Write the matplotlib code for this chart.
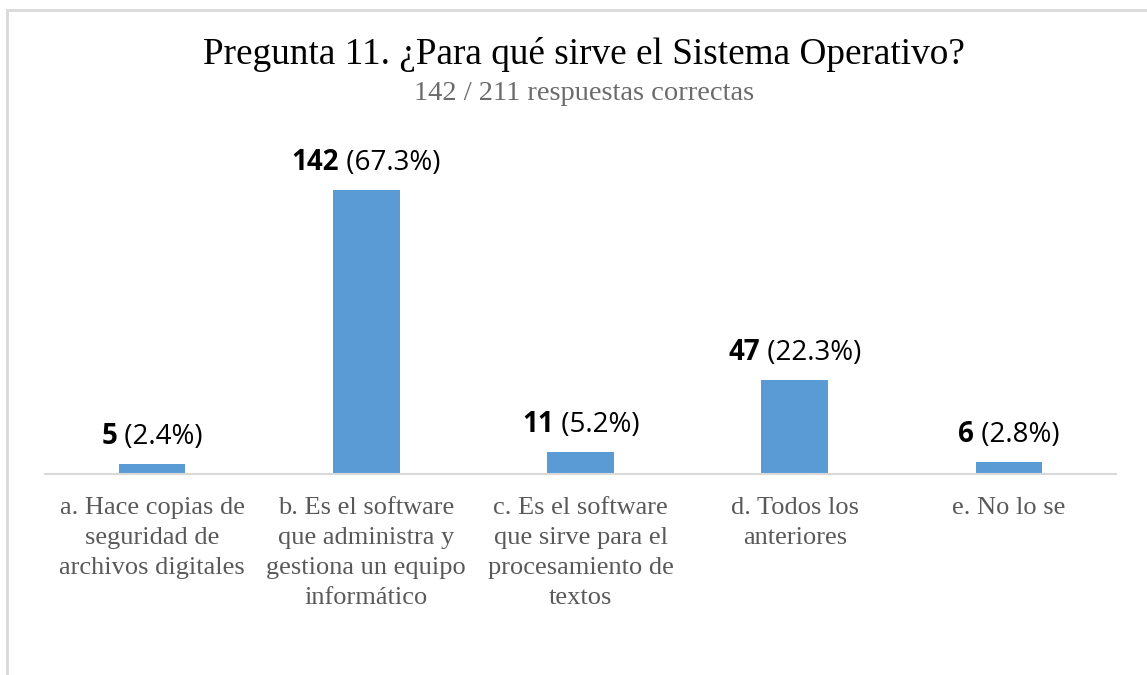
import matplotlib
matplotlib.use("Agg")
import matplotlib.pyplot as plt
from matplotlib.patches import Rectangle

# data
categorias = [
    "a. Hace copias de\nseguridad de\narchivos digitales",
    "b. Es el software\nque administra y\ngestiona un equipo\ninformático",
    "c. Es el software\nque sirve para el\nprocesamiento de\ntextos",
    "d. Todos los\nanteriores",
    "e. No lo se",
]
respuestas = [5, 142, 11, 47, 6]
porcentajes = ["2.4%", "67.3%", "5.2%", "22.3%", "2.8%"]
titulo = "Pregunta 11. ¿Para qué sirve el Sistema Operativo?"
subtitulo = "142 / 211 respuestas correctas"

W, H = 1147, 675
fig = plt.figure(figsize=(W / 100, H / 100), dpi=100)
fig.patch.set_facecolor("white")

# chart border (runs off the right and bottom edge)
fig.patches.append(Rectangle((7 / W, -0.05), 1.2, (H - 10) / H + 0.05,
                             transform=fig.transFigure, fill=False,
                             edgecolor="#d9d9d9", linewidth=2))

ax = fig.add_axes([45 / W, (H - 474) / H, 1071 / W, 320 / H])
x = range(len(respuestas))
ax.bar(x, respuestas, width=0.31, color="#5b9bd5")
ax.set_xlim(-0.5, len(respuestas) - 0.5)
ax.set_ylim(0, 160)
ax.set_yticks([])
for s in ["left", "right", "top"]:
    ax.spines[s].set_visible(False)
ax.spines["bottom"].set_color("#d9d9d9")
ax.spines["bottom"].set_linewidth(1.5)
ax.set_xticks(list(x))
ax.set_xticklabels(categorias, family="Liberation Serif", fontsize=19,
                   color="#595959", linespacing=1.48, va="top")
ax.tick_params(axis="x", length=0, pad=16.5)

fig.text(584 / W, 1 - 64 / H, titulo, family="Liberation Serif",
         fontsize=26.8, ha="center", va="baseline", color="black")
fig.text(584 / W, 1 - 100 / H, subtitulo, family="Liberation Serif",
         fontsize=20.5, ha="center", va="baseline", color="#6b6b6b")

# data labels: bold count + normal percentage, centred over each bar
fig.canvas.draw()
r = fig.canvas.get_renderer()
for i, (n, p) in enumerate(zip(respuestas, porcentajes)):
    t1 = ax.annotate(str(n), (i, n), xytext=(0, 14.5), textcoords="offset points",
                     ha="left", va="baseline", fontsize=20, fontweight="bold",
                     family="Open Sans", color="black")
    t2 = ax.annotate(" (" + p + ")", (i, n), xytext=(0, 14.5), textcoords="offset points",
                     ha="left", va="baseline", fontsize=20,
                     family="Open Sans", color="black")
    w1 = t1.get_window_extent(r).width
    w2 = t2.get_window_extent(r).width
    start = -(w1 + w2) / 2 * 72 / 100
    t1.set_position((start, 14.5))
    t2.set_position((start + w1 * 72 / 100, 14.5))

fig.savefig("out.png", dpi=100)
